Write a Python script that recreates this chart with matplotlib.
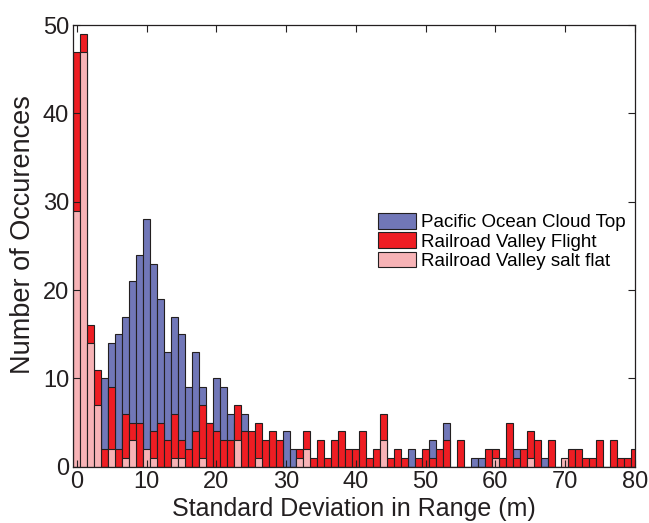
import matplotlib
matplotlib.use("Agg")
import matplotlib.pyplot as plt
import numpy as np

plt.rcParams['font.family'] = ['Liberation Sans', 'DejaVu Sans']

centers = list(range(0, 81))

pacific = [0, 0, 0, 0, 10, 14, 15, 17, 21, 24,
           28, 23, 19, 13, 17, 15, 9, 13, 9, 5,
           10, 9, 6, 5, 6, 3, 2, 2, 2, 1,
           4, 2, 1, 1, 0, 0, 0, 0, 0, 0,
           0, 0, 0, 0, 0, 0, 0, 0, 2, 0,
           0, 3, 0, 5, 0, 0, 0, 1, 1, 0,
           0, 0, 0, 2, 0, 0, 0, 1, 0, 0,
           0, 0, 0, 0, 0, 0, 0, 0, 0, 0, 0]

flight = [47, 49, 16, 11, 2, 9, 2, 6, 5, 5,
          1, 4, 5, 3, 6, 3, 2, 4, 7, 5,
          4, 3, 3, 7, 4, 4, 5, 3, 4, 3,
          0, 0, 2, 4, 1, 3, 1, 3, 4, 2,
          2, 4, 1, 2, 6, 1, 2, 1, 0, 1,
          2, 1, 2, 3, 0, 3, 0, 0, 0, 2,
          2, 1, 5, 1, 2, 4, 3, 0, 3, 0,
          0, 2, 2, 1, 1, 3, 0, 3, 1, 1, 2]

saltflat = [29, 47, 14, 7, 0, 2, 0, 1, 3, 0,
            2, 1, 0, 0, 1, 1, 0, 0, 1, 0,
            0, 0, 0, 3, 0, 0, 1, 0, 0, 0,
            0, 0, 1, 2, 0, 0, 0, 0, 0, 0,
            0, 0, 0, 0, 3, 0, 0, 0, 0, 0,
            0, 0, 0, 0, 0, 0, 0, 0, 0, 0,
            1, 0, 0, 0, 0, 1, 0, 0, 0, 0,
            1, 0, 0, 0, 0, 0, 0, 0, 0, 0, 0]

labels = ['Pacific Ocean Cloud Top', 'Railroad Valley Flight', 'Railroad Valley salt flat']
colors = ['#7177B8', '#EE1D23', '#F7B3B6']

fig = plt.figure(figsize=(6.49, 5.23), dpi=100)
ax = fig.add_axes([0.113, 0.1076, 0.865, 0.8444])

for vals, c, lab in zip([pacific, flight, saltflat], colors, labels):
    ax.bar(centers, vals, width=1.0, color=c, edgecolor='#231F20', linewidth=0.8, label=lab)

ax.set_xlim(-0.5, 80)
ax.set_ylim(0, 50)
ax.set_xticks(range(0, 81, 10))
ax.set_yticks(range(0, 51, 10))
ax.tick_params(direction='in', top=True, right=True, labelsize=17, colors='#231F20',
               length=5, width=0.8, pad=3)
for s in ax.spines.values():
    s.set_linewidth(0.9)
    s.set_color('#231F20')

ax.set_xlabel('Standard Deviation in Range (m)', fontsize=18, color='#231F20', labelpad=3)
ax.set_ylabel('Number of Occurences', fontsize=19.5, color='#231F20')
ax.yaxis.set_label_coords(-0.066, 0.525)

ax.legend(loc='center left', bbox_to_anchor=(0.52, 0.51), frameon=False, fontsize=13.5,
          handlelength=2.0, handleheight=0.9, labelspacing=0.05, handletextpad=0.25,
          borderpad=0.2)

fig.savefig('out.png', dpi=100)
